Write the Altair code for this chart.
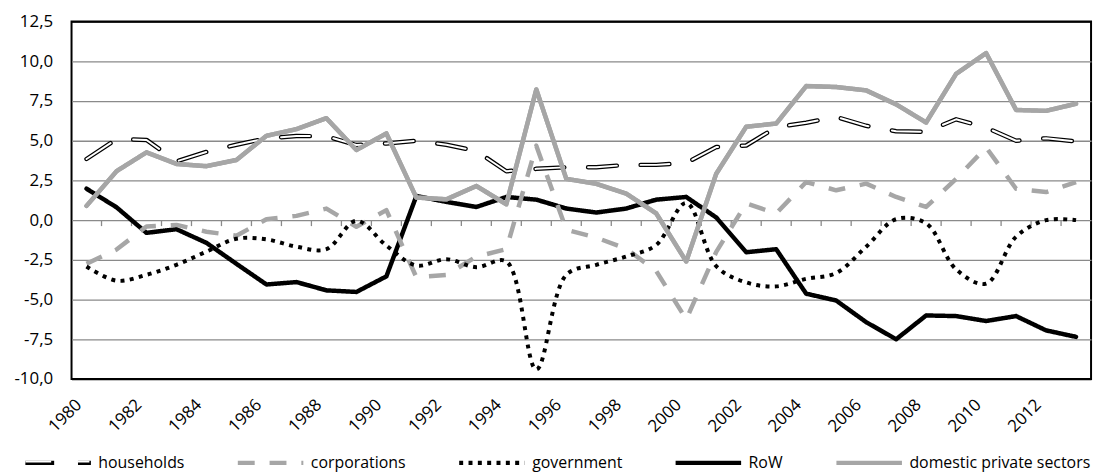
import altair as alt
import pandas as pd

years = list(range(1980, 2014))
households = [3.85, 5.1, 5.05, 3.7, 4.3, 4.75, 5.15, 5.3, 5.28, 4.73, 4.83, 5.0, 4.75, 4.35,
              3.08, 3.23, 3.33, 3.33, 3.48, 3.48, 3.6, 4.6, 4.7, 5.85, 6.13, 6.5, 5.94, 5.6,
              5.56, 6.35, 5.83, 5.0, 5.15, 4.96]
corporations = [-2.75, -1.85, -0.4, -0.3, -0.73, -0.98, 0.06, 0.27, 0.73, -0.42, 0.63, -3.6,
                -3.45, -2.3, -1.83, 4.69, -0.6, -1.1, -1.8, -3.2, -6.25, -2.0, 1.05, 0.42, 2.4,
                1.88, 2.3, 1.46, 0.83, 2.6, 4.58, 1.98, 1.77, 2.4]
government = [-2.92, -3.81, -3.44, -2.81, -1.98, -1.17, -1.21, -1.67, -1.83, -0.04, -1.6, -2.85,
              -2.46, -2.96, -2.6, -9.4, -3.44, -2.81, -2.29, -1.56, 1.08, -2.9, -3.92, -4.17,
              -3.69, -3.33, -1.67, 0.06, -0.2, -3.1, -4.0, -1.04, 0.0, 0.0]
row_sector = [1.98, 0.81, -0.8, -0.57, -1.43, -2.75, -4.05, -3.9, -4.42, -4.52, -3.54, 1.52,
              1.15, 0.83, 1.46, 1.29, 0.73, 0.48, 0.73, 1.29, 1.46, 0.17, -2.02, -1.83, -4.63,
              -5.06, -6.42, -7.5, -6.0, -6.04, -6.35, -6.04, -6.94, -7.35]
domestic = [0.9, 3.08, 4.27, 3.54, 3.4, 3.79, 5.31, 5.73, 6.42, 4.42, 5.46, 1.42, 1.31, 2.15,
            1.0, 8.23, 2.6, 2.29, 1.67, 0.42, -2.6, 2.92, 5.88, 6.08, 8.44, 8.38, 8.17, 7.29,
            6.15, 9.21, 10.52, 6.94, 6.88, 7.33]

series_names = ["households", "corporations", "government", "RoW", "domestic private sectors"]
series_values = [households, corporations, government, row_sector, domestic]
series_colors = ["#000000", "#a6a6a6", "#000000", "#000000", "#a6a6a6"]
series_dashes = [[29, 24], [17, 15], [4, 5.4], [1, 0], [1, 0]]

y_tick_values = [-10, -7.5, -5, -2.5, 0, 2.5, 5, 7.5, 10, 12.5]
x_label_years = years[::2]

records = []
for name, vals in zip(series_names, series_values):
    for yr, v in zip(years, vals):
        records.append({"year": yr, "value": v, "series": name})
df = pd.DataFrame(records)
df_ticks = pd.DataFrame({"year": [yr + 0.5 for yr in years[:-1]]})
df_ticks["value"] = 0.0
df_ticks["value2"] = -0.375

FONT = "Open Sans"
GRID = "#8a8a8a"

x_enc = alt.X(
    "year:Q",
    scale=alt.Scale(domain=[years[0] - 0.5, years[-1] + 0.5], nice=False, zero=False),
    axis=alt.Axis(values=x_label_years, format="d", labelAngle=315, labelAlign="right",
                  labelBaseline="middle", labelPadding=23, labelOffset=-8, ticks=False,
                  domain=False, grid=False, title=None, labelFont=FONT, labelFontSize=17,
                  labelColor="black", labelOverlap=False),
)
y_enc = alt.Y(
    "value:Q",
    scale=alt.Scale(domain=[-10, 12.5], nice=False, zero=False),
    axis=alt.Axis(values=y_tick_values,
                  labelExpr="(datum.value < 0 ? '-' : '') + replace(format(abs(datum.value), '.1f'), '.', ',')",
                  grid=True,
                  gridColor={"condition": {"test": "datum.value >= 12.5 || datum.value <= -10",
                                           "value": "black"}, "value": GRID},
                  gridWidth=1.3, ticks=False, domain=False, title=None, labelOverlap=False,
                  labelPadding=19, labelFont=FONT, labelFontSize=17, labelColor="black"),
)

LEG_X, LEG_Y, LEG_SIZE = -49, 409, 4356

legend = alt.Legend(title=None, orient="none", legendX=LEG_X, legendY=LEG_Y,
                    direction="horizontal", columns=5, gridAlign="none", columnPadding=44,
                    symbolType="stroke", symbolSize=LEG_SIZE, symbolStrokeWidth=4.5,
                    labelFont=FONT, labelFontSize=16, labelColor="black", labelOffset=5,
                    padding=0, labelLimit=400, zindex=1)

# overlay legend that paints the white core of the households double line
legend_inner = alt.Legend(title=None, orient="none", legendX=LEG_X, legendY=LEG_Y,
                          direction="horizontal", columns=5, gridAlign="none",
                          symbolType="stroke", symbolSize=LEG_SIZE, symbolStrokeWidth=2,
                          symbolDash=[26, 27], symbolDashOffset=-1.5,
                          labelExpr="''", labelFontSize=16, labelOffset=5,
                          padding=0, zindex=2)

color_enc = alt.Color("series:N", scale=alt.Scale(domain=series_names, range=series_colors),
                      legend=legend)
dash_enc = alt.StrokeDash("series:N", scale=alt.Scale(domain=series_names, range=series_dashes),
                          legend=legend)

base = alt.Chart(df)

ticks = alt.Chart(df_ticks).mark_rule(color=GRID, strokeWidth=1.3).encode(
    x=x_enc, y=y_enc, y2="value2:Q"
)

lines_main = base.transform_filter(
    (alt.datum.series != "government") & (alt.datum.series != "corporations")
).mark_line(strokeWidth=4.5, strokeCap="round", strokeJoin="round").encode(
    x=x_enc, y=y_enc, color=color_enc, strokeDash=dash_enc)

lines_corp = base.transform_filter(alt.datum.series == "corporations").mark_line(
    strokeWidth=4.5, strokeCap="butt", strokeJoin="round"
).encode(x=x_enc, y=y_enc, color=color_enc, strokeDash=dash_enc)

lines_gov = base.transform_filter(alt.datum.series == "government").mark_line(
    strokeWidth=4, strokeCap="butt", strokeJoin="round", interpolate="catmull-rom"
).encode(x=x_enc, y=y_enc, color=color_enc, strokeDash=dash_enc)

hh_inner = base.transform_filter(alt.datum.series == "households").mark_line(
    strokeWidth=2.0, strokeDash=[29, 24], strokeCap="round", strokeJoin="round"
).encode(
    x=x_enc, y=y_enc,
    stroke=alt.Stroke("series:N", scale=alt.Scale(domain=["households"], range=["white"]),
                      legend=legend_inner),
)

dom_top = base.transform_filter(alt.datum.series == "domestic private sectors").mark_line(
    stroke="#a6a6a6", strokeWidth=4.5, strokeCap="round", strokeJoin="round"
).encode(x=x_enc, y=y_enc)

chart = alt.layer(ticks, lines_main, lines_corp, lines_gov, hh_inner, dom_top).properties(
    width=1027, height=360,
    autosize=alt.AutoSizeParams(type="none"),
    padding={"left": 64, "top": 12, "right": 7, "bottom": 94},
).configure_view(stroke="black", strokeWidth=2)

chart.save("out.html", embed_options={"renderer": "svg", "actions": False})
